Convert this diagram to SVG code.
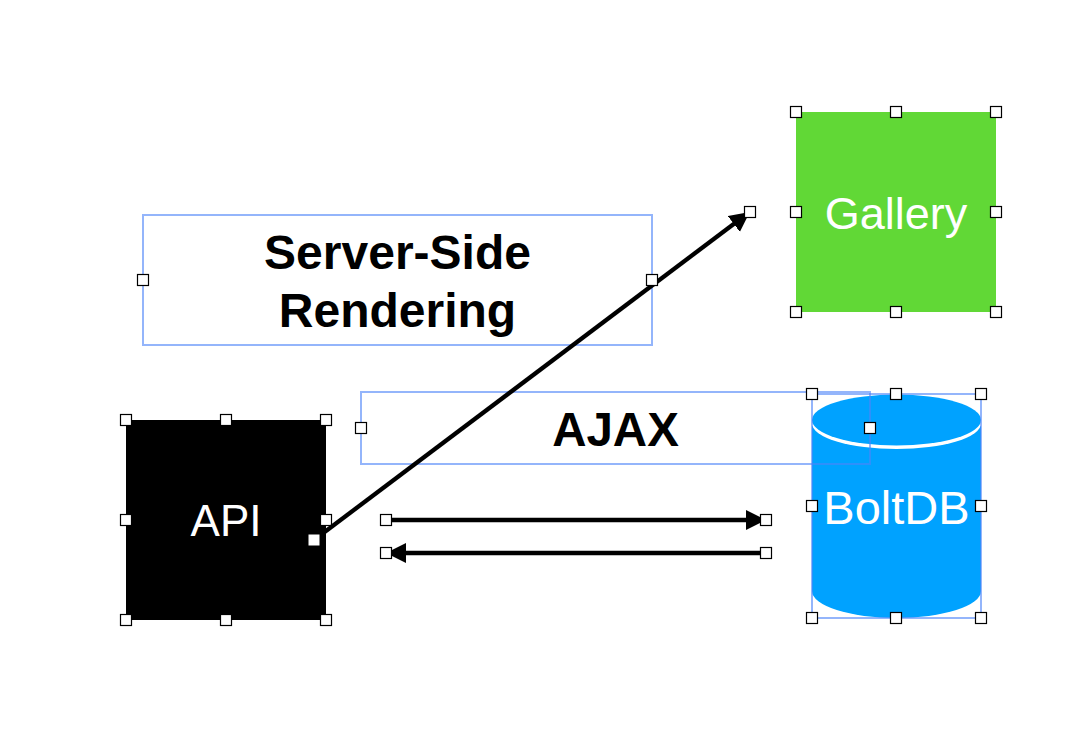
<svg xmlns="http://www.w3.org/2000/svg" width="1092" height="748" viewBox="0 0 1092 748">
<style>
text{font-family:"Liberation Sans",Arial,sans-serif;text-anchor:middle}
.n{font-size:44px;fill:#fff}
.t{font-size:48px;font-weight:bold;fill:#000}
.sel{fill:none;stroke:#4d84f8;stroke-opacity:.6;stroke-width:2}
.h{fill:#fff;stroke:#000;stroke-width:1.200}
.c{fill:none;stroke:#000;stroke-width:4.300}
</style>
<defs>
<marker id="a" markerUnits="userSpaceOnUse" markerWidth="22" markerHeight="22" refX="19" refY="10" orient="auto"><path d="M0 0L20 10L0 20Z" fill="#000"/></marker>
<rect id="hd" class="h" x="-5.500" y="-5.500" width="11" height="11"/>
</defs>
<g id="gallery">
<rect x="796" y="112" width="200" height="200" fill="#61d836"/>
<text class="n" x="896" y="229" style="font-size:45px">Gallery</text>
<use href="#hd" x="796" y="112"/><use href="#hd" x="896" y="112"/><use href="#hd" x="996" y="112"/>
<use href="#hd" x="796" y="212"/><use href="#hd" x="996" y="212"/>
<use href="#hd" x="796" y="312"/><use href="#hd" x="896" y="312"/><use href="#hd" x="996" y="312"/>
</g>
<g id="api">
<rect x="126" y="420" width="200" height="200" fill="#000"/>
<text class="n" x="226" y="536">API</text>
<use href="#hd" x="126" y="420"/><use href="#hd" x="226" y="420"/><use href="#hd" x="326" y="420"/>
<use href="#hd" x="126" y="520"/><use href="#hd" x="326" y="520"/>
<use href="#hd" x="126" y="620"/><use href="#hd" x="226" y="620"/><use href="#hd" x="326" y="620"/>
</g>
<g id="boltdb">
<path d="M812 420H981V591A84.500 27 0 0 1 812 591Z" fill="#00a2ff"/>
<ellipse cx="896.500" cy="423.500" rx="84.500" ry="25.500" fill="#fff"/>
<path d="M812 420V426H981V420Z" fill="#fff"/>
<ellipse cx="896.500" cy="420" rx="84.500" ry="25.500" fill="#00a2ff"/>
<rect class="sel" x="812" y="394" width="169" height="224"/>
<text class="n" x="896.500" y="524" style="font-size:47px">BoltDB</text>
</g>
<g id="ssr">
<rect class="sel" x="143" y="215" width="509" height="130"/>
<text class="t" x="397.500" y="269">Server-Side</text>
<text class="t" x="397.500" y="327">Rendering</text>
<use href="#hd" x="143" y="280"/>
</g>
<g id="ajax">
<rect class="sel" x="361" y="392" width="509" height="72"/>
<text class="t" x="615.500" y="446" style="font-size:47.500px">AJAX</text>
<use href="#hd" x="361" y="428"/>
</g>
<g id="connectors">
<path class="c" d="M314 540L749 212.500" marker-end="url(#a)"/>
<path class="c" d="M386 520H765" marker-end="url(#a)"/>
<path class="c" d="M766 553H387" marker-end="url(#a)"/>
</g>
<g id="handles">
<use href="#hd" x="812" y="394"/><use href="#hd" x="896" y="394"/><use href="#hd" x="981" y="394"/>
<use href="#hd" x="812" y="506"/><use href="#hd" x="981" y="506"/>
<use href="#hd" x="812" y="618"/><use href="#hd" x="896" y="618"/><use href="#hd" x="981" y="618"/>
<use href="#hd" x="870" y="428"/>
<use href="#hd" x="652" y="280"/>
<use href="#hd" x="750" y="212"/>
<rect x="308.500" y="534.500" width="11" height="11" fill="#fff"/>
<use href="#hd" x="386" y="520"/><use href="#hd" x="766" y="520"/>
<use href="#hd" x="386" y="553"/><use href="#hd" x="766" y="553"/>
</g>
</svg>
